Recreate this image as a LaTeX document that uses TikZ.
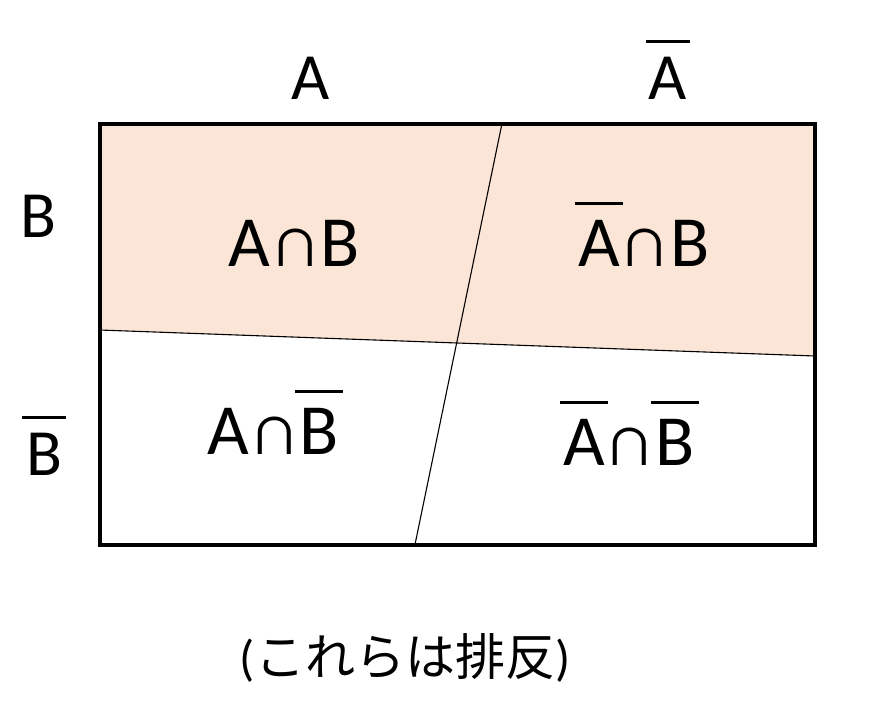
\documentclass[tikz,border=0pt]{standalone}
\usepackage{fontspec}
\setmainfont{Carlito}
\newfontfamily\cjk{Noto Sans CJK JP}
\newsavebox\obbox
\newcommand\obar[1]{\sbox\obbox{#1}\rlap{\hbox to \wd\obbox{\hss\rule[0.85em]{0.66em}{0.045em}\hss}}\usebox\obbox}
\definecolor{cellpink}{HTML}{FBE5D6}
\tikzset{
  lab/.style={inner sep=0pt, anchor=base, font=\fontsize{66}{70}\selectfont},
  cell/.style={inner sep=0pt, anchor=base, font=\fontsize{72}{76}\selectfont},
  note/.style={inner sep=0pt, anchor=base, font=\fontsize{50}{56}\selectfont},
  frame/.style={line width=4pt},
  divider/.style={line width=1.1pt}
}
\begin{document}
\begin{tikzpicture}[x=1pt,y=-1pt]
\useasboundingbox (0,0) rectangle (885,726);
% corners and divider ends
\coordinate (tl) at (99.5,123.5);
\coordinate (tr) at (815,123.5);
\coordinate (br) at (815,544.5);
\coordinate (bl) at (99.5,544.5);
\coordinate (hl) at (99.5,330);
\coordinate (hr) at (815,356);
\coordinate (vt) at (502,123.5);
\coordinate (vb) at (415,544.5);
% shaded top region
\fill[cellpink] (tl) -- (tr) -- (hr) -- (hl) -- cycle;
% dividers
\draw[divider] (hl) -- (hr);
\draw[divider] (vt) -- (vb);
% frame
\draw[frame] (tl) rectangle (br);
% labels
\node[lab] (la) at (311,99) {A};
\node[lab] (lna) at (668,99) {\obar{A}};
\node[lab] (lb) at (38,237) {B};
\node[lab] (lnb) at (44,475) {\obar{B}};
% cells
\node[cell] (c11) at (294,266) {A∩B};
\node[cell] (c21) at (644,266) {\obar{A}∩B};
\node[cell] (c12) at (273,454) {A∩\obar{B}};
\node[cell] (c22) at (629,465) {\obar{A}∩\obar{B}};
% note
\node[note] (nt) at (405,675) {({\cjk これらは排反})};
\end{tikzpicture}
\end{document}
